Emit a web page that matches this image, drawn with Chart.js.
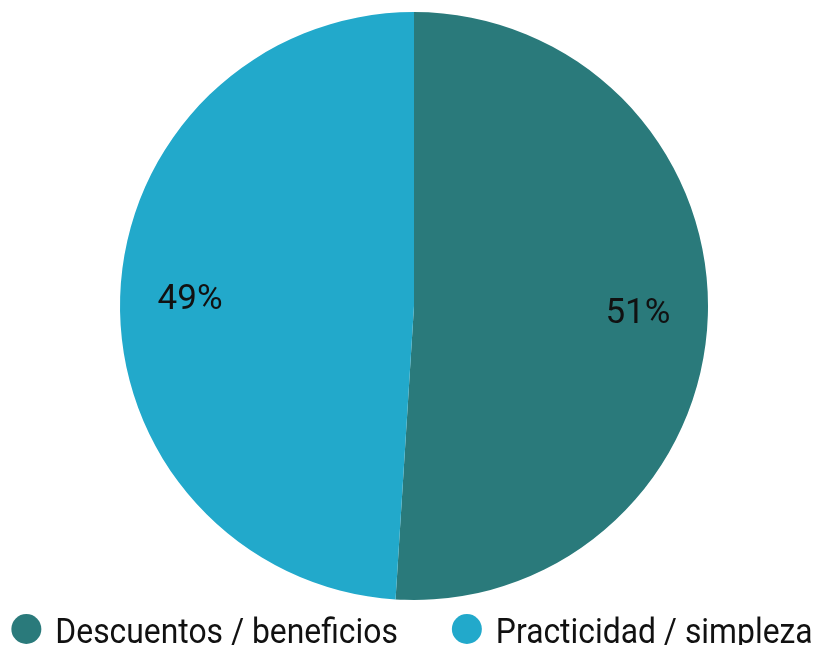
<!DOCTYPE html>
<html>
<head>
<meta charset="utf-8">
<script src="https://cdn.jsdelivr.net/npm/chart.js@4"></script>
<style>
  html, body { margin: 0; padding: 0; background: #fff; overflow: hidden; }
  #wrap { width: 814px; height: 645px; }
</style>
</head>
<body>
<div id="wrap"><canvas id="chart" width="814" height="645"></canvas></div>
<script>
const labels = ['Descuentos / beneficios', 'Practicidad / simpleza'];
const values = [51, 49];
const colors = ['#2a7a7b', '#22a9cb'];

// percent text inside each slice
const sliceLabels = {
    id: 'sliceLabels',
    afterDatasetsDraw(chart) {
        const ctx = chart.ctx;
        const meta = chart.getDatasetMeta(0);
        const total = values.reduce((a, b) => a + b, 0);
        ctx.save();
        ctx.font = '35px Roboto';
        ctx.fillStyle = '#111';
        ctx.textAlign = 'center';
        ctx.textBaseline = 'middle';
        meta.data.forEach((arc, i) => {
            const mid = (arc.startAngle + arc.endAngle) / 2;
            const r = arc.outerRadius * 0.762;
            const x = arc.x + Math.cos(mid) * r;
            const y = arc.y + Math.sin(mid) * r + 1;
            ctx.fillText(Math.round(values[i] / total * 100) + '%', x, y);
        });
        ctx.restore();
    }
};

// bottom legend, slightly condensed text like the original
const bottomLegend = {
    id: 'bottomLegend',
    afterDraw(chart) {
        const ctx = chart.ctx;
        const squeeze = 0.91;
        const dot = 15, gapText = 14, gapItem = 54;
        const baseY = 643, dotY = 629;
        ctx.save();
        ctx.font = '35px Roboto';
        const widths = labels.map(l => ctx.measureText(l).width * squeeze);
        let total = gapItem * (labels.length - 1);
        widths.forEach(w => total += dot * 2 + gapText + w);
        let x = chart.chartArea.left + (chart.chartArea.right - chart.chartArea.left) / 2 - 2 - total / 2;
        labels.forEach((l, i) => {
            ctx.fillStyle = colors[i];
            ctx.beginPath();
            ctx.arc(x + dot, dotY, dot, 0, Math.PI * 2);
            ctx.fill();
            x += dot * 2 + gapText;
            ctx.fillStyle = '#111';
            ctx.textBaseline = 'alphabetic';
            ctx.save();
            ctx.translate(x, baseY);
            ctx.scale(squeeze, 1);
            ctx.fillText(l, 0, 0);
            ctx.restore();
            x += widths[i] + gapItem;
        });
        ctx.restore();
    }
};

new Chart(document.getElementById('chart'), {
    type: 'pie',
    data: {
        labels: labels,
        datasets: [{
            data: values,
            backgroundColor: colors,
            borderWidth: 0
        }]
    },
    options: {
        responsive: false,
        animation: false,
        layout: { padding: { top: 12, left: 14, bottom: 45 } },
        plugins: {
            tooltip: { enabled: false },
            legend: { display: false }
        }
    },
    plugins: [sliceLabels, bottomLegend]
});
</script>
</body>
</html>
